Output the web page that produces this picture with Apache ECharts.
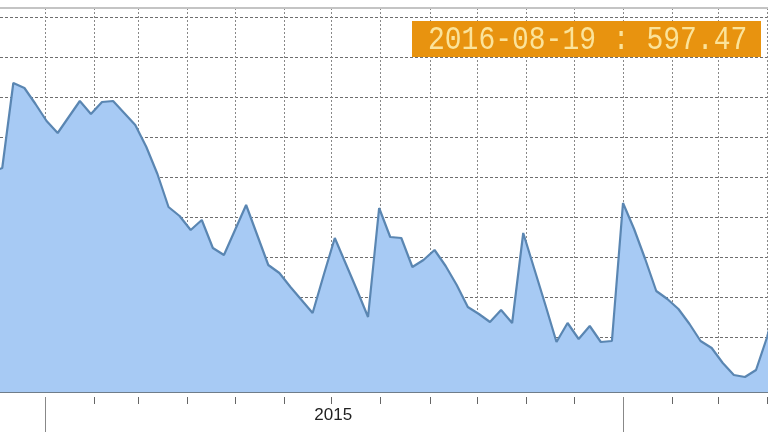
<!DOCTYPE html>
<html><head><meta charset="utf-8">
<script src="https://cdn.jsdelivr.net/npm/echarts@6/dist/echarts.min.js"></script>
<style>html,body{margin:0;padding:0;background:#fff}#c{width:768px;height:432px}</style>
</head><body><div id="c"></div>
<script>
// ---- data ----
const firstWeek = '2014-11-28';          // weekly (Friday) observations
const values = [
  812.5, 822.5, 1035, 1022.5, 982.5, 940, 910, 950, 990, 957.5,
  987.5, 990, 960, 930, 875, 807.5, 725, 702.5, 667.5, 692.5,
  622.5, 605, 667.5, 730, 655, 580, 560, 525, 492.5, 460,
  555, 647.5, 582.5, 517.5, 450, 722.5, 650, 647.5, 575, 592.5,
  617.5, 577.5, 530, 475, 457.5, 437.5, 467.5, 435, 660, 570,
  480, 387.5, 435, 395, 427.5, 387.5, 390, 735, 670, 595,
  515, 495, 470, 432.5, 390, 372.5, 335, 305, 300, 317.5,
  400, 505
];
const monthTicks = ['2014-12-01','2015-01-01','2015-02-01','2015-03-01','2015-04-01','2015-05-01',
  '2015-06-01','2015-07-01','2015-08-01','2015-09-01','2015-10-01','2015-11-01','2015-12-01',
  '2016-01-01','2016-02-01','2016-03-01','2016-04-01'];
const yearTicks = ['2015-01-01','2016-01-01'];
const yearLabelDates = ['2015-07-02'];
const yearLabels = ['2015'];
const viewStart = '2014-12-03T14:00:00Z';
const viewEnd = '2016-04-01T13:30:00Z';
const yMin = 262.5, yMax = 1222.5;
const tipDate = '2016-08-19';
const tipValue = '597.47';

// ---- build ----
const ts = s => Date.parse(s.length === 10 ? s + 'T00:00:00Z' : s);
const DAY = 86400000;
const t0 = ts(firstWeek);
const seriesData = values.map((v, i) => [t0 + i * 7 * DAY, v]);
const xMin = ts(viewStart), xMax = ts(viewEnd);
const monthVals = monthTicks.map(ts);
const yearVals = yearTicks.map(ts);
const labelVals = yearLabelDates.map(ts);

const baseX = {type: 'value', min: xMin, max: xMax, scale: true};
const chart = echarts.init(document.getElementById('c'), null, {renderer: 'canvas'});
chart.setOption({
  animation: false,
  backgroundColor: '#ffffff',
  grid: {left: 0, right: 0, top: 8, bottom: 40, containLabel: false},
  xAxis: [
    Object.assign({}, baseX, {
      position: 'bottom',
      axisLine: {show: true, onZero: false, lineStyle: {color: '#6f7d8a', width: 2}},
      axisTick: {show: false, customValues: monthVals},
      axisLabel: {show: false, customValues: monthVals},
      splitLine: {show: true, lineStyle: {color: '#888888', width: 1, type: [2, 2]}}
    }),
    Object.assign({}, baseX, {
      position: 'bottom', offset: 5,
      axisLine: {show: false, onZero: false},
      axisTick: {show: true, customValues: monthVals, length: 7, lineStyle: {color: '#666', width: 1}},
      axisLabel: {show: true, customValues: labelVals, margin: 10, fontSize: 17,
        fontFamily: 'Liberation Sans, Arial, sans-serif', color: '#222', align: 'center',
        formatter: function (v) { const i = labelVals.indexOf(v); return i >= 0 ? yearLabels[i] : ''; }},
      splitLine: {show: false}
    }),
    Object.assign({}, baseX, {
      position: 'bottom', offset: 5,
      axisLine: {show: false, onZero: false},
      axisTick: {show: true, customValues: yearVals, length: 36, lineStyle: {color: '#888', width: 1}},
      axisLabel: {show: false, customValues: yearVals},
      splitLine: {show: false}
    }),
    Object.assign({}, baseX, {
      position: 'top',
      axisLine: {show: true, onZero: false, lineStyle: {color: '#c4c4c4', width: 2}},
      axisTick: {show: false}, axisLabel: {show: false}, splitLine: {show: false}
    })
  ],
  yAxis: {
    type: 'value', min: yMin, max: yMax, splitNumber: 10,
    axisLine: {show: false}, axisTick: {show: false}, axisLabel: {show: false},
    splitLine: {show: true, showMinLine: false, showMaxLine: false,
      lineStyle: {color: '#6e6e6e', width: 1, type: [3, 2]}}
  },
  series: [{
    type: 'line', xAxisIndex: 0, yAxisIndex: 0, data: seriesData,
    showSymbol: false, symbol: 'none', smooth: false,
    lineStyle: {color: '#5a86b2', width: 2.2},
    areaStyle: {color: '#a7caf4', opacity: 1, origin: 'start'},
    z: 3
  }],
  graphic: [
    {type: 'rect', left: 412, top: 21, z: 100,
      shape: {width: 349, height: 36}, style: {fill: '#e8930f'}},
    {type: 'text', x: 428, y: 40, scaleY: 1.2, z: 101,
      style: {text: tipDate + ' : ' + tipValue, fill: '#fbe39a', fontSize: 28,
        fontFamily: 'Liberation Mono, monospace', verticalAlign: 'middle', align: 'left'}}
  ]
});
</script>
</body></html>
